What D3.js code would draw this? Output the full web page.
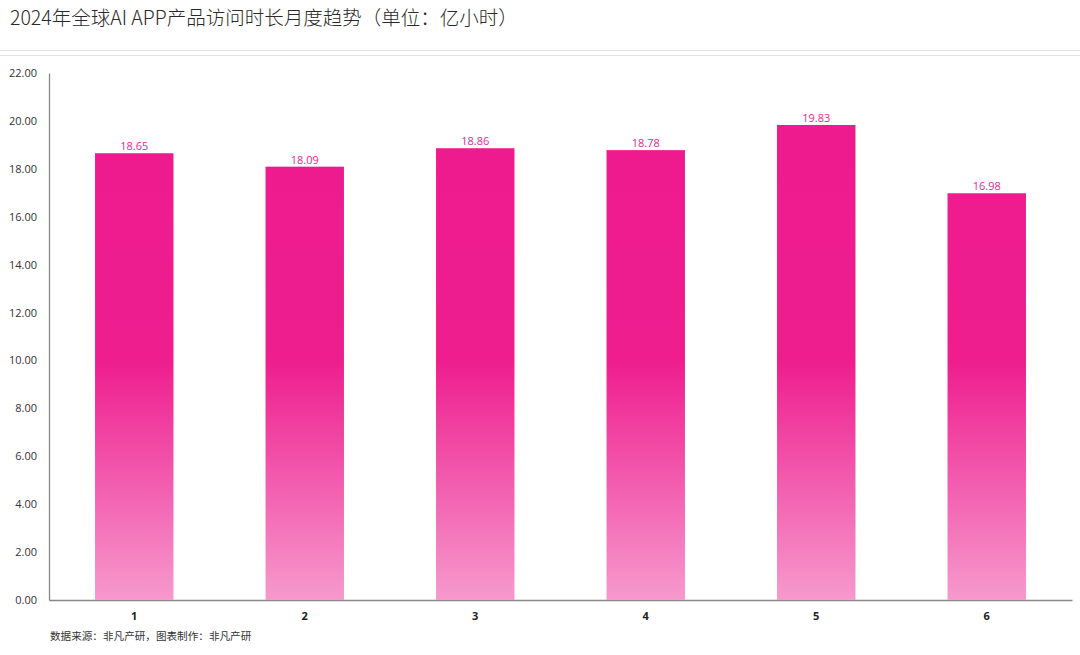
<!DOCTYPE html>
<html>
<head>
<meta charset="utf-8">
<script src="https://cdn.jsdelivr.net/npm/d3@7"></script>
<style>
  body { margin: 0; background: #fff; }
  svg { display: block; font-family: "Noto Sans CJK SC", "Noto Sans", sans-serif; }
</style>
</head>
<body>
<svg width="1080" height="655"></svg>
<script>
var months = ["1", "2", "3", "4", "5", "6"];
var hours = [18.65, 18.09, 18.86, 18.78, 19.83, 16.98];
var yTicks = [0, 2, 4, 6, 8, 10, 12, 14, 16, 18, 20, 22];
var title = "2024年全球AI APP产品访问时长月度趋势（单位：亿小时）";
var source = "数据来源：非凡产研，图表制作：非凡产研";

var svg = d3.select("svg"),
    margin = {top: 73, right: 8, bottom: 55, left: 49},
    width = +svg.attr("width") - margin.left - margin.right,
    height = +svg.attr("height") - margin.top - margin.bottom;

// title + double rule
svg.append("text")
  .attr("x", 10).attr("y", 25)
  .attr("fill", "#2a2a2a")
  .style("font-size", "19.5px")
  .style("font-weight", "300")
  .text(title);

svg.append("line").attr("x1", 0).attr("x2", 1080).attr("y1", 50.5).attr("y2", 50.5)
  .attr("stroke", "#e2e2e2").attr("stroke-width", 1.2);
svg.append("line").attr("x1", 0).attr("x2", 1080).attr("y1", 55.5).attr("y2", 55.5)
  .attr("stroke", "#e2e2e2").attr("stroke-width", 1.2);

var defs = svg.append("defs");
var grad = defs.append("linearGradient")
  .attr("id", "barGrad")
  .attr("gradientUnits", "userSpaceOnUse")
  .attr("x1", 0).attr("x2", 0)
  .attr("y1", margin.top).attr("y2", margin.top + height);
grad.append("stop").attr("offset", "0%").attr("stop-color", "#ee1b8e");
grad.append("stop").attr("offset", "41%").attr("stop-color", "#ee1e8f");
grad.append("stop").attr("offset", "100%").attr("stop-color", "#f9bfe0");

var g = svg.append("g").attr("transform", "translate(" + margin.left + "," + margin.top + ")");

var x = d3.scaleBand().domain(months).range([0, width]).paddingInner(0.54).paddingOuter(0.27);
var y = d3.scaleLinear().domain([0, 22]).range([height, 0]);

var yAxis = g.append("g")
  .call(d3.axisLeft(y).tickValues(yTicks).tickFormat(d3.format(".2f")).tickSize(0).tickPadding(12));
yAxis.select(".domain").attr("stroke", "#888").attr("stroke-width", 1.3);
yAxis.selectAll("text").attr("fill", "#333").style("font-size", "11px")
  .style("font-family", "'Open Sans', 'Noto Sans', sans-serif");

var xAxis = g.append("g")
  .attr("transform", "translate(0," + height + ")")
  .call(d3.axisBottom(x).tickSize(0).tickPadding(12).tickSizeOuter(0));
xAxis.select(".domain").attr("stroke", "#888").attr("stroke-width", 1.3);
xAxis.selectAll("text").attr("fill", "#222").style("font-size", "11px").style("font-weight", "bold")
  .style("font-family", "'Open Sans', 'Noto Sans', sans-serif");

var data = months.map(function(m, i) { return {month: m, value: hours[i]}; });

g.selectAll(".bar")
  .data(data)
  .enter().append("rect")
  .attr("class", "bar")
  .attr("x", d => x(d.month))
  .attr("width", x.bandwidth())
  .attr("y", d => y(d.value))
  .attr("height", d => height - y(d.value))
  .attr("fill", "url(#barGrad)");

g.selectAll(".lbl")
  .data(data)
  .enter().append("text")
  .attr("class", "lbl")
  .attr("x", d => x(d.month) + x.bandwidth() / 2)
  .attr("y", d => y(d.value) - 3)
  .attr("text-anchor", "middle")
  .attr("fill", "#e8288f")
  .style("font-size", "11px")
  .style("font-family", "'Open Sans', 'Noto Sans', sans-serif")
  .text(d => d.value.toFixed(2));

// source note
svg.append("text")
  .attr("x", 50).attr("y", 640)
  .attr("fill", "#333")
  .style("font-size", "10.6px")
  .text(source);
</script>
</body>
</html>
